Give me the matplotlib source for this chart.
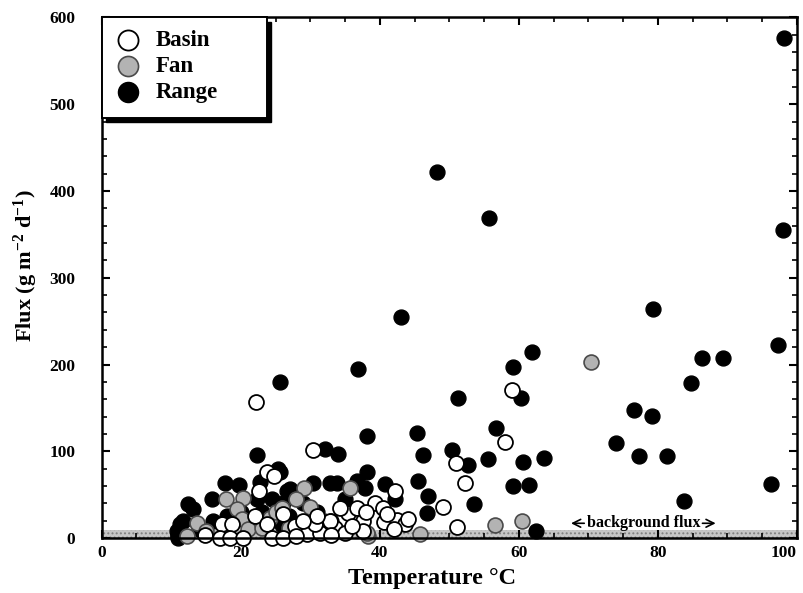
import matplotlib
matplotlib.use("Agg")
import matplotlib.pyplot as plt
from matplotlib.ticker import MultipleLocator
from matplotlib.patches import Rectangle

plt.rcParams['font.family'] = ['Liberation Serif', 'DejaVu Serif']
plt.rcParams['font.weight'] = 'bold'
plt.rcParams['mathtext.fontset'] = 'custom'
plt.rcParams['mathtext.rm'] = 'Liberation Serif:bold'
plt.rcParams['mathtext.bf'] = 'Liberation Serif:bold'
plt.rcParams['mathtext.default'] = 'bf'
plt.rcParams['hatch.linewidth'] = 0.9

# ---------------- data ----------------
range_t = [98.2, 98.0, 97.2, 96.2, 79.3, 79.2, 86.4, 89.4, 84.8, 81.3, 83.8, 76.6, 74.0, 77.3,
           61.9, 59.2, 60.3, 56.7, 55.6, 60.6, 63.6, 59.2, 61.5, 53.6, 62.5, 48.2, 55.7, 43.1,
           36.9, 51.3, 25.7, 22.4, 38.2, 45.4, 32.1, 34.0, 46.2, 50.4, 52.7, 45.5, 46.9, 46.8,
           38.2, 40.8, 42.2, 36.7, 37.9, 30.4, 32.9, 33.9, 27.1, 25.7, 17.7, 19.8, 22.7, 26.7,
           12.4, 13.2, 15.9, 22.4, 24.5, 11.3, 11.0, 26.1, 11.7, 10.8, 25.4,
           29.0, 31.0, 35.0, 33.0, 27.0, 20.0, 18.0, 16.0, 14.0, 23.0, 26.0]
range_f = [576, 355, 222, 62, 264, 141, 208, 208, 179, 95, 43, 147, 110, 95,
           215, 197, 161, 127, 91, 88, 92, 60, 61, 39, 8, 422, 369, 255,
           195, 161, 180, 96, 118, 121, 103, 97, 96, 102, 84, 66, 49, 29,
           76, 62, 45, 66, 58, 64, 64, 64, 57, 76, 64, 61, 65, 54,
           39, 34, 45, 45, 45, 16, 0, 40, 20, 8, 80,
           40, 30, 45, 20, 25, 30, 25, 20, 10, 30, 15]

fan_t = [70.4, 56.6, 60.5, 45.8, 35.7, 29.1, 30.0, 17.9, 20.3, 12.3, 13.7, 19.5, 20.2, 24.2,
         38.3, 38.2, 21.0, 25.0, 27.0, 15.0, 23.0, 32.0, 28.0, 26.0]
fan_f = [203, 15, 20, 5, 58, 58, 36, 45, 46, 2, 17, 34, 22, 23,
         2, 6, 10, 30, 12, 8, 12, 20, 45, 35]

basin_t = [59.0, 58.0, 51.0, 52.3, 49.1, 51.1, 30.4, 42.2, 39.3, 40.5, 37.6, 40.6, 42.5, 43.6,
           35.4, 36.7, 34.3, 26.1, 27.8, 29.5, 31.4, 33.6, 35.0, 30.7, 32.9, 37.6, 22.2, 23.8,
           24.8, 22.6, 14.9, 17.3, 18.8, 22.1, 23.8, 17.0, 18.5, 20.3, 24.5, 26.1,
           28.0, 33.0, 36.0, 31.0, 29.0, 44.0, 41.0, 38.0, 42.0]
basin_f = [171, 111, 86, 64, 36, 13, 101, 54, 40, 35, 20, 18, 21, 16,
           29, 35, 35, 28, 14, 5, 6, 12, 6, 16, 20, 8, 157, 76,
           72, 54, 3, 16, 16, 25, 16, 0, 0, 0, 0, 0,
           2, 3, 14, 25, 20, 22, 28, 30, 10]

background_flux = 9
x_ticks = [0, 20, 40, 60, 80, 100]
y_ticks = [0, 100, 200, 300, 400, 500, 600]

# ---------------- figure ----------------
fig = plt.figure(figsize=(8.04, 5.93), dpi=100)
ax = fig.add_axes([0.1265, 0.0927, 0.8648, 0.8778])

ax.axhspan(0, background_flux, facecolor='#c6c6c6', edgecolor='#808080',
           hatch='....', linewidth=0, zorder=1)

ms = 115
ax.scatter(range_t, range_f, s=ms, facecolor='black', edgecolor='black',
           linewidth=1.0, zorder=3, clip_on=False, label='Range')
ax.scatter(fan_t, fan_f, s=ms, facecolor='#b3b3b3', edgecolor='#4a4a4a',
           linewidth=1.2, zorder=4, clip_on=False, label='Fan')
ax.scatter(basin_t, basin_f, s=ms, facecolor='white', edgecolor='black',
           linewidth=1.3, zorder=5, clip_on=False, label='Basin')

# background flux annotation
ax.text(77.9, 17, 'background flux', ha='center', va='center', fontsize=11.5,
        fontweight='bold', zorder=6)
ax.annotate('', xy=(67.1, 17), xytext=(69.8, 17),
            arrowprops=dict(arrowstyle='->', lw=1.2, color='black',
                            mutation_scale=14), zorder=6)
ax.annotate('', xy=(88.7, 17), xytext=(86.0, 17),
            arrowprops=dict(arrowstyle='->', lw=1.2, color='black',
                            mutation_scale=14), zorder=6)

ax.set_xlim(0, 100)
ax.set_ylim(0, 600)
ax.set_xticks(x_ticks)
ax.set_yticks(y_ticks)
ax.xaxis.set_minor_locator(MultipleLocator(5))
ax.yaxis.set_minor_locator(MultipleLocator(20))
ax.tick_params(which='both', direction='in', top=True, right=True, zorder=7)
ax.tick_params(which='major', length=6, width=1.5, labelsize=12.5)
ax.tick_params(which='minor', length=3.5, width=1.2)
ax.tick_params(axis='y', which='major', pad=19)
ax.tick_params(axis='x', which='major', pad=5)
for lab in ax.get_xticklabels() + ax.get_yticklabels():
    lab.set_fontweight('bold')
ax.get_xticklabels()[-1].set_horizontalalignment('right')
for sp in ax.spines.values():
    sp.set_linewidth(1.8)
    sp.set_zorder(8)

ax.set_xlabel('Temperature °C', fontsize=17.5, fontweight='bold')
ax.xaxis.set_label_coords(0.475, -0.058)
ax.set_ylabel('Flux (g m$^{-2}$ d$^{-1}$)', fontsize=16, fontweight='bold')
ax.yaxis.set_label_coords(-0.089, 0.523)

# legend box with shadow (axes coordinates)
box_w, box_h = 0.2377, 0.193
ax.add_patch(Rectangle((0.006, 1 - box_h - 0.008), box_w, box_h, transform=ax.transAxes,
                       facecolor='black', edgecolor='black', zorder=9, clip_on=False))
ax.add_patch(Rectangle((0.0, 1 - box_h), box_w, box_h, transform=ax.transAxes,
                       facecolor='white', edgecolor='black', linewidth=1.4,
                       zorder=9.5, clip_on=False))

handles, labels = ax.get_legend_handles_labels()
order = [2, 1, 0]
leg = ax.legend([handles[i] for i in order], [labels[i] for i in order],
                loc='upper left', bbox_to_anchor=(0.0, 0.995), borderaxespad=0.0,
                frameon=False, fontsize=16.5, handletextpad=0.5, borderpad=0.45,
                labelspacing=0.2, handlelength=1.4, scatterpoints=1, markerscale=1.35)
for t in leg.get_texts():
    t.set_fontweight('bold')
leg.set_zorder(10)

fig.savefig('out.png', dpi=100)
